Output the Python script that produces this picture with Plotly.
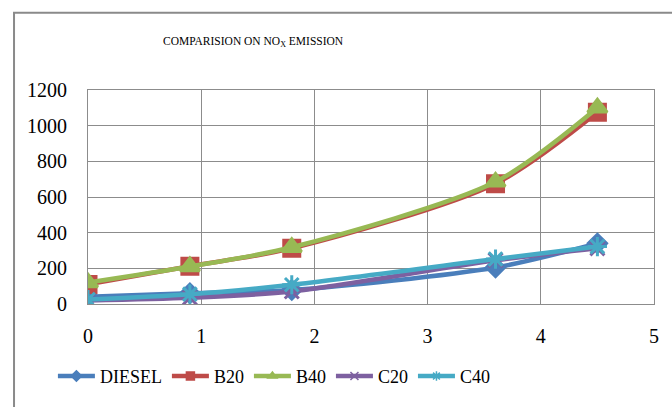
import plotly.graph_objects as go

# Brake power (kW) and NOx emission (ppm) for each fuel blend
load = [0, 0.9, 1.8, 3.6, 4.5]
diesel = [40, 60, 78, 205, 340]
b20 = [110, 212, 312, 675, 1075]
b40 = [120, 210, 318, 685, 1100]
c20 = [20, 35, 70, 245, 312]
c40 = [25, 55, 108, 252, 322]

series = [
    ("DIESEL", diesel, "#4A7EBB", "diamond", 14),
    ("B20", b20, "#BE4B48", "square", 16),
    ("B40", b40, "#98B954", "triangle-up", 17),
    ("C20", c20, "#7D60A0", "x-thin-open", 14),
    ("C40", c40, "#46AAC5", "asterisk-open", 16),
]

SERIF = "Liberation Serif"
grid = "#8C8C8C"

fig = go.Figure()
for name, vals, color, sym, size in series:
    fig.add_trace(go.Scatter(
        x=load, y=vals, name=name, mode="lines+markers", legendgroup=name, showlegend=False,
        line=dict(color=color, width=4.5, shape="spline", smoothing=0.8),
        marker=dict(symbol=sym, size=size, color=color,
                    line=dict(color=color, width=3)),
    ))
# legend keys with smaller markers
for name, vals, color, sym, size in series:
    fig.add_trace(go.Scatter(
        x=[None], y=[None], name=name, mode="lines+markers", legendgroup=name,
        line=dict(color=color, width=4.5),
        marker=dict(symbol=sym, size=8, color=color, line=dict(color=color, width=1.5)),
    ))

fig.update_layout(
    width=672, height=407,
    margin=dict(l=88, r=18, t=90, b=101),
    paper_bgcolor="white", plot_bgcolor="white",
    font=dict(family=SERIF, color="black"),
    showlegend=True,
    legend=dict(orientation="h", x=-0.062, xanchor="left", y=-0.338, yanchor="middle",
                font=dict(size=18, family=SERIF, color="black"), tracegroupgap=0,
                itemwidth=37),
    xaxis=dict(range=[0, 5], dtick=1, tick0=0, showgrid=True, gridcolor=grid, gridwidth=1,
               zeroline=False, showline=True, linecolor=grid, linewidth=1, mirror=True,
               ticks="", tickfont=dict(size=20, family=SERIF, color="black"),
               ticklabelstandoff=14),
    yaxis=dict(range=[0, 1200], dtick=200, tick0=0, showgrid=True, gridcolor=grid, gridwidth=1,
               zeroline=False, showline=True, linecolor=grid, linewidth=1, mirror=True,
               ticks="", tickfont=dict(size=20, family=SERIF, color="black"),
               ticklabelstandoff=16),
    annotations=[dict(
        text="COMPARISION ON NO<sub>X</sub> EMISSION", xref="paper", yref="paper",
        x=0.293, y=1.222, xanchor="center", yanchor="middle", showarrow=False,
        font=dict(size=11.5, family=SERIF, color="black"),
    )],
    shapes=[dict(
        type="rect", xref="paper", yref="paper",
        x0=-0.1307, y0=-2, x1=2, y1=1.361,
        line=dict(color="#8A8A8A", width=2), fillcolor="rgba(0,0,0,0)", layer="below",
    )],
)

fig.write_html("out.html")
